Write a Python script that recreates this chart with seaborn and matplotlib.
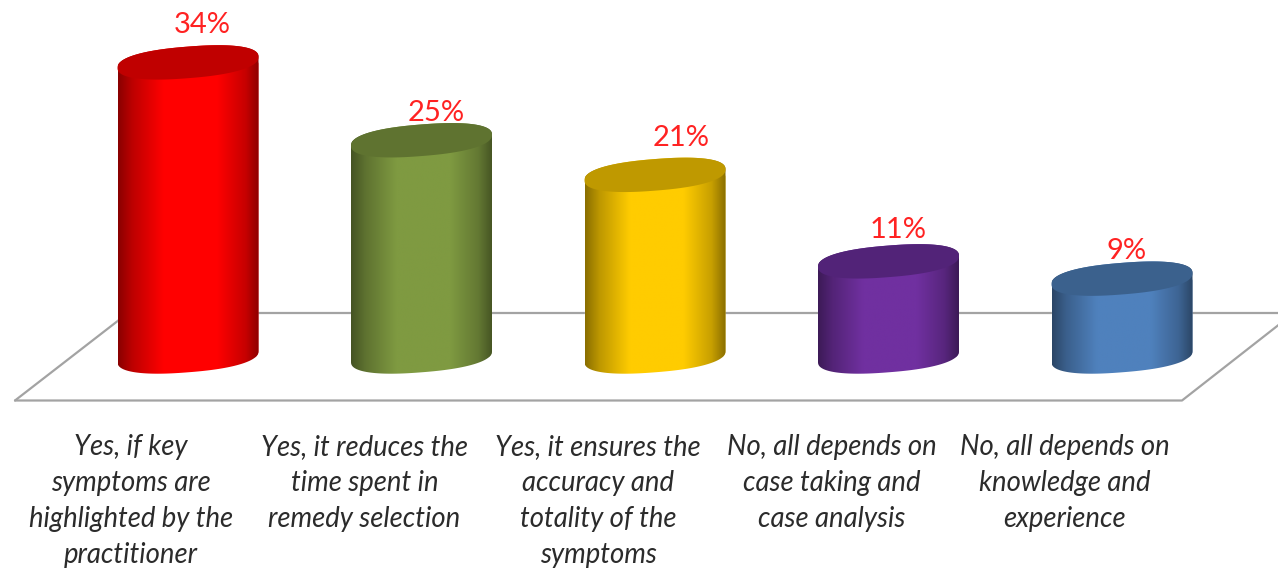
import numpy as np
import pandas as pd
import matplotlib
matplotlib.use('Agg')
import matplotlib.pyplot as plt
import seaborn as sns
from matplotlib.colors import to_rgb
from matplotlib.patches import Polygon
from matplotlib.transforms import ScaledTranslation

# chart data
categories = [
    'Yes, if key\nsymptoms are\nhighlighted by the\npractitioner',
    'Yes, it reduces the\ntime spent in\nremedy selection',
    'Yes, it ensures the\naccuracy and\ntotality of the\nsymptoms',
    'No, all depends on\ncase taking and\ncase analysis',
    'No, all depends on\nknowledge and\nexperience',
]
values = [34, 25, 21, 11, 9]
body_colors = ['#ff0000', '#7f9a41', '#ffcc00', '#7030a0', '#4f81bd']
top_colors = ['#c00000', '#5f7330', '#bf9900', '#522378', '#3b618d']

# little offsets of the percent labels, in pixels
label_dx = [14, 15, 26, 10, 5]
label_dy = [37.5, 27.5, 37, 31, 27.5]

W, H = 1278, 569
AX_BOTTOM = 425      # pixel row where the axes stops, tick labels go below
BASE = 356.5         # pixel row of value 0
PX_PER_UNIT = 8.65
X0, STEP = 188, 233.5

sns.set_theme(style='white')
plt.rcParams['font.family'] = ['Lato', 'DejaVu Sans']

fig = plt.figure(figsize=(W / 100, H / 100), dpi=100)
ax = fig.add_axes([0, 1 - AX_BOTTOM / H, 1, AX_BOTTOM / H])

df = pd.DataFrame({'category': categories, 'value': values})
sns.barplot(data=df, x='category', y='value', hue='category', palette=body_colors,
            width=141 / STEP, legend=False, ax=ax, zorder=2)

xlim = (-X0 / STEP, (W - X0) / STEP)
ylim = ((BASE - AX_BOTTOM) / PX_PER_UNIT, BASE / PX_PER_UNIT)


def px_x(x):
    return (x - X0) / STEP


def px_y(y):
    return (BASE - y) / PX_PER_UNIT


def ellipse_xy(cx, a, v, t):
    # tilted, slightly squarish ellipse, left side lower than right side
    c = np.sign(np.cos(t)) * np.abs(np.cos(t)) ** 0.85
    s = np.sign(np.sin(t)) * np.abs(np.sin(t)) ** 0.85
    x = cx + a * c
    y = v + (5.5 * c + 15.8 * s) / PX_PER_UNIT
    return x, y


# floor of the 3d chart
floor_x = [15, 1182, 1290, 1278, 128, 15]
floor_y = [400.5, 400.5, 316, 313, 313, 400.5]
ax.plot(px_x(np.array(floor_x[:3])), px_y(np.array(floor_y[:3])), color='#a3a3a3', lw=1.6, zorder=1, solid_capstyle='round')
ax.plot(px_x(np.array(floor_x[3:])), px_y(np.array(floor_y[3:])), color='#a3a3a3', lw=1.6, zorder=1, solid_capstyle='round')

stops = [0, 0.1, 0.32, 0.7, 0.9, 1]
shades = [0.54, 0.74, 1, 1, 0.78, 0.54]
grad_t = np.linspace(0, 1, 256)

for i, bar in enumerate(ax.patches[:len(values)]):
    left, w, v = bar.get_x(), bar.get_width(), bar.get_height()
    cx = left + w / 2
    a = w / 2

    # outline of the cylinder: upper half of top ellipse + lower half of base ellipse
    t_up = np.linspace(np.pi, 0, 80)
    t_low = np.linspace(0, -np.pi, 80)
    xu, yu = ellipse_xy(cx, a, v, t_up)
    xl, yl = ellipse_xy(cx, a, 0, t_low)
    outline = Polygon(np.column_stack([np.r_[xu, xl], np.r_[yu, yl]]), closed=True,
                      transform=ax.transData, fc='none', ec='none')
    ax.add_patch(outline)
    bar.set_clip_path(outline)

    rgb = np.array(to_rgb(body_colors[i]))
    shade = np.interp(grad_t, stops, shades)
    img = (shade[None, :, None] * rgb[None, None, :]).clip(0, 1)
    im = ax.imshow(img, extent=[left, left + w, -3, v + 3], aspect='auto', zorder=3, interpolation='bilinear')
    im.set_clip_path(outline)

    # top face
    t = np.linspace(0, 2 * np.pi, 160)
    xt, yt = ellipse_xy(cx, a, v, t)
    ax.fill(xt, yt, color=top_colors[i], lw=0, zorder=4)

    ax.text(cx + label_dx[i] / STEP, v + label_dy[i] / PX_PER_UNIT, f'{values[i]}%',
            color='#ff2222', fontsize=21, ha='center', va='center', zorder=5)

ax.set_xlim(xlim)
ax.set_ylim(ylim)
ax.set_xlabel('')
ax.set_ylabel('')
ax.set_yticks([])
ax.tick_params(axis='x', length=0, pad=6.5)
ax.set_xticks(range(len(categories)))
ax.set_xticklabels(categories, fontsize=19.8, style='italic', color='#2b2b2b', linespacing=1.47, va='top')
# the category labels sit left of their bars in the original
shift = ScaledTranslation(-57 / 100, 0, fig.dpi_scale_trans)
for lab in ax.get_xticklabels():
    lab.set_transform(lab.get_transform() + shift)
sns.despine(ax=ax, left=True, bottom=True, top=True, right=True)

fig.savefig('out.png', dpi=100)
plt.close(fig)
